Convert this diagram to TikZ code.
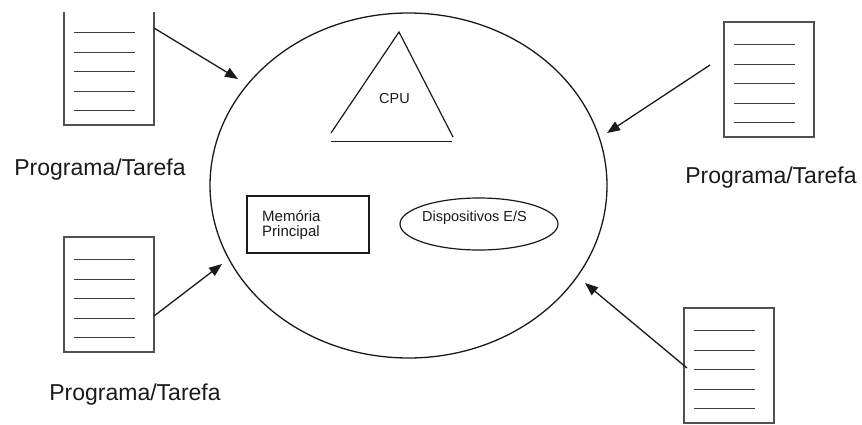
\documentclass[tikz,border=0pt]{standalone}
\usepackage{fontspec}
\setmainfont{Liberation Sans}
\usetikzlibrary{shapes.geometric,arrows.meta}
\definecolor{ink}{HTML}{1A1A1A}
\definecolor{pagegray}{HTML}{505050}
\begin{document}
\begin{tikzpicture}[x=1pt,y=-1pt,
  docpage/.style={draw=pagegray,line width=1.1pt,minimum width=90pt,minimum height=115pt,inner sep=0pt,outer sep=0pt},
  docrule/.style={draw=ink!85,line width=1pt},
  tasklabel/.style={font=\fontsize{23}{27}\selectfont,text=ink,anchor=base,inner sep=0pt},
  feed/.style={draw=ink,line width=1.3pt,-{Triangle[length=13pt,width=10pt]}},
  smalltext/.style={font=\fontsize{14.5}{15}\selectfont,text=ink,inner sep=0pt},
  part/.style={draw=ink,line width=1.2pt}]
\useasboundingbox (0,0) rectangle (862,424);

% the computer system
\node[ellipse,draw=ink,line width=1.3pt,minimum width=397pt,minimum height=345pt,inner sep=0pt] (system) at (408.5,185.5) {};

% CPU triangle, base drawn as its own stroke
\coordinate (cpuApex) at (399,32);
\coordinate (cpuLeft) at (331,133);
\coordinate (cpuRight) at (453,137);
\coordinate (cpuBaseL) at (331,141.5);
\coordinate (cpuBaseR) at (452,141.5);
\draw[part] (cpuLeft) -- (cpuApex) -- (cpuRight);
\draw[part] (cpuBaseL) -- (cpuBaseR);
\node[smalltext,anchor=base] (cpu) at (394.5,103) {CPU};

% main memory
\node[part,rectangle,minimum width=122pt,minimum height=57pt,inner sep=0pt] (mem) at (308,224.5) {};
\node[font=\fontsize{15}{15}\selectfont,text=ink,inner sep=0pt,align=left,anchor=base west] (memtxt) at (262,236) {Memória\\Principal};

% I/O devices
\node[part,ellipse,minimum width=158pt,minimum height=52pt,inner sep=0pt] (io) at (479,224) {};
\node[smalltext,anchor=base] (iotxt) at (474.5,221) {Dispositivos E/S};

% program pages
\node[docpage,draw=none] (docA) at (109,67.5) {};
\draw[pagegray,line width=1.1pt] ([yshift=-2pt]docA.north west) -- (docA.south west) -- (docA.south east) -- ([yshift=-2pt]docA.north east);
\node[docpage] (docB) at (769,79.5) {};
\node[docpage] (docC) at (109,294.5) {};
\node[docpage] (docD) at (729,365.5) {};
\foreach \d in {docA,docB,docC,docD}
  \foreach \i in {0,...,4}
    \draw[docrule] ([xshift=10pt,yshift={-(22.5+19.6*\i)*1pt}]\d.north west) -- ++(61,0);

% captions
\node[tasklabel] (labA) at (100,175) {Programa/Tarefa};
\node[tasklabel] (labB) at (771,183) {Programa/Tarefa};
\node[tasklabel] (labC) at (135,400) {Programa/Tarefa};

% programs entering the system
\coordinate (tipA) at (238,79);
\coordinate (tipB) at (607,133);
\coordinate (tipC) at (222,264);
\coordinate (tipD) at (585,283);
\draw[feed] ([yshift=39.5pt]docA.east) -- (tipA);
\draw[feed] ([shift={(-14pt,14.5pt)}]docB.west) -- (tipB);
\draw[feed] ([yshift=-21.5pt]docC.east) -- (tipC);
\draw[feed] ([shift={(3pt,-2.5pt)}]docD.west) -- (tipD);
\end{tikzpicture}
\end{document}
